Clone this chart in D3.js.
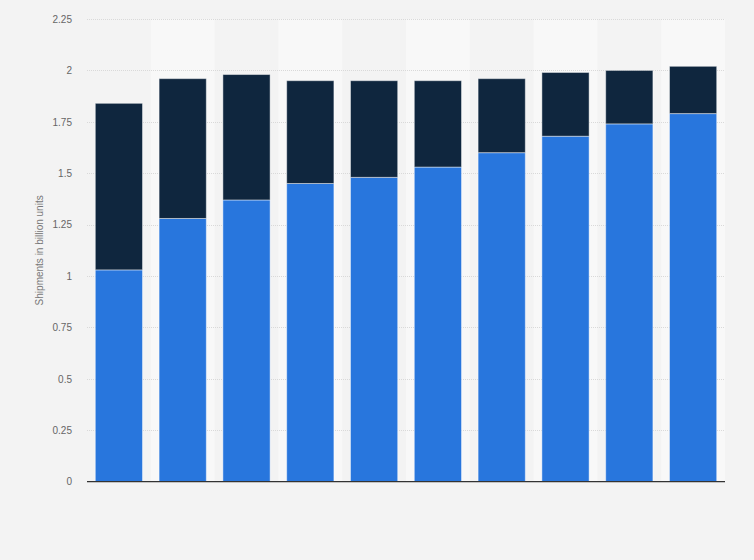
<!DOCTYPE html>
<html>
<head>
<meta charset="utf-8">
<script src="https://cdn.jsdelivr.net/npm/d3@7"></script>
<style>
  html, body { margin: 0; padding: 0; background: #f3f3f3; }
  svg { display: block; font-family: "Liberation Sans", Arial, sans-serif; }
</style>
</head>
<body>
<svg id="chart" width="754" height="560"></svg>
<script>
// Data
const categories = ["2014", "2015", "2016", "2017", "2018", "2019", "2020", "2021", "2022", "2023"];
const seriesBlue = [1.03, 1.28, 1.37, 1.45, 1.48, 1.53, 1.60, 1.68, 1.74, 1.79];
const seriesNavy = [0.81, 0.68, 0.61, 0.50, 0.47, 0.42, 0.36, 0.31, 0.26, 0.23];
const yTicks = [0, 0.25, 0.5, 0.75, 1, 1.25, 1.5, 1.75, 2, 2.25];
const yTickLabels = ["0", "0.25", "0.5", "0.75", "1", "1.25", "1.5", "1.75", "2", "2.25"];
const yAxisTitle = "Shipments in billion units";
const seriesKeys = ["blue", "navy"];
const seriesColors = { blue: "#2876dd", navy: "#0f263e" };

const rows = categories.map((c, i) => ({ cat: c, blue: seriesBlue[i], navy: seriesNavy[i] }));

const svg = d3.select("#chart");
const W = 754, H = 560;
const margin = { left: 87, right: 29, top: 19, bottom: 79 };
const x0 = margin.left, x1 = W - margin.right;
const yTop = margin.top, yBot = H - margin.bottom + 0.7;

svg.append("rect").attr("width", W).attr("height", H).attr("fill", "#f3f3f3");

const x = d3.scaleBand().domain(categories).range([x0, x1]).paddingInner(0.26).paddingOuter(0.13);
const xStep = d3.scaleBand().domain(categories).range([x0, x1]).padding(0);
const y = d3.scaleLinear().domain([0, 2.25]).range([yBot, yTop]);

// alternating column bands
svg.append("g").selectAll("rect")
  .data(categories.filter((c, i) => i % 2 === 1))
  .join("rect")
  .attr("x", d => xStep(d))
  .attr("width", xStep.bandwidth())
  .attr("y", yTop)
  .attr("height", yBot - yTop)
  .attr("fill", "#f8f8f8");

// gridlines
svg.append("g").selectAll("line")
  .data(yTicks.filter(t => t > 0))
  .join("line")
  .attr("x1", x0).attr("x2", x1)
  .attr("y1", d => Math.round(y(d)) + 0.5).attr("y2", d => Math.round(y(d)) + 0.5)
  .attr("stroke", "#d9d9d9")
  .attr("stroke-dasharray", "1,1");

// y axis
const yAxis = d3.axisLeft(y).tickValues(yTicks)
  .tickFormat((d, i) => yTickLabels[i]).tickSize(0).tickPadding(15);
const gy = svg.append("g").attr("transform", `translate(${x0},0)`).call(yAxis);
gy.select(".domain").remove();
gy.selectAll("text").attr("fill", "#666").attr("font-size", "10px")
  .attr("font-family", "'Liberation Sans', Arial, sans-serif");

// stacked bars
const stack = d3.stack().keys(seriesKeys)(rows);
svg.append("g").selectAll("g")
  .data(stack)
  .join("g")
  .attr("fill", d => seriesColors[d.key])
  .selectAll("rect")
  .data(d => d)
  .join("rect")
  .attr("x", d => x(d.data.cat))
  .attr("width", x.bandwidth())
  .attr("y", d => y(d[1]))
  .attr("height", d => y(d[0]) - y(d[1]))
  .attr("stroke", "#ffffff")
  .attr("stroke-opacity", 0.45)
  .attr("stroke-width", 1);

// x axis line
svg.append("line")
  .attr("x1", x0).attr("x2", x1)
  .attr("y1", yBot).attr("y2", yBot)
  .attr("stroke", "#333").attr("stroke-width", 1.2);

// y axis title
svg.append("text")
  .attr("transform", `translate(43,${(yTop + yBot) / 2}) rotate(-90)`)
  .attr("text-anchor", "middle")
  .attr("fill", "#777")
  .attr("font-size", "10px")
  .text(yAxisTitle);
</script>
</body>
</html>
